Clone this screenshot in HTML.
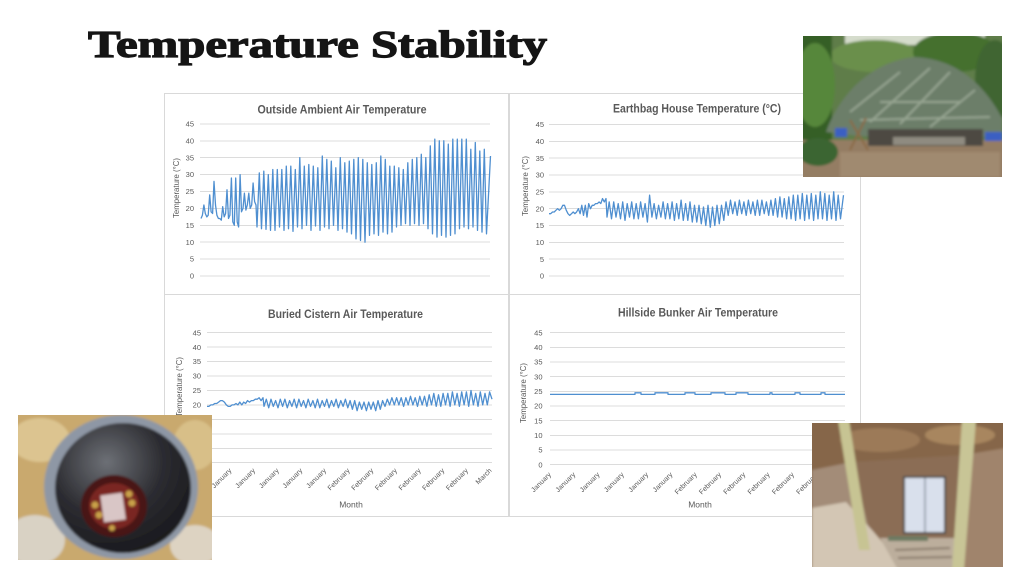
<!DOCTYPE html>
<html><head><meta charset="utf-8"><style>
html,body{margin:0;padding:0;background:#fff;}
svg{display:block;}
</style></head><body>
<svg xmlns="http://www.w3.org/2000/svg" width="1024" height="576" viewBox="0 0 1024 576">
<defs>
<filter id="bl" x="-5%" y="-5%" width="110%" height="110%"><feGaussianBlur stdDeviation="1.2"/></filter>
<clipPath id="c1"><rect x="803" y="36" width="199" height="141"/></clipPath>
<clipPath id="c2"><rect x="18" y="415" width="194" height="145"/></clipPath>
<clipPath id="c3"><rect x="812" y="423" width="191" height="144"/></clipPath>
<radialGradient id="rg" cx="0.38" cy="0.3" r="0.75"><stop offset="0" stop-color="#6d7076"/><stop offset="0.55" stop-color="#2c2c31"/><stop offset="1" stop-color="#18181c"/></radialGradient>
</defs>
<rect width="1024" height="576" fill="#fff"/>

<text x="88" y="57" font-family="'Liberation Serif',serif" font-weight="bold" font-size="38" textLength="459" lengthAdjust="spacingAndGlyphs" fill="#151515" stroke="#151515" stroke-width="1.2">Temperature Stability</text>

<g fill="none" stroke="#d9d9d9" stroke-width="1">
<rect x="164.5" y="93.5" width="344" height="201"/>
<rect x="509.5" y="93.5" width="351" height="201"/>
<rect x="164.5" y="294.5" width="344" height="222"/>
<rect x="509.5" y="294.5" width="351" height="222"/>
</g>

<g fill="none" stroke="#dcdcdc" stroke-width="1">
<path d="M200,124H490M200,141H490M200,157.5H490M200,174.5H490M200,191.5H490M200,208.5H490M200,225.5H490M200,242H490M200,259H490M200,276H490"/>
<path d="M549,124.5H844M549,141.5H844M549,158H844M549,175H844M549,192H844M549,208.5H844M549,225.5H844M549,242.5H844M549,259H844M549,276H844"/>
<path d="M207,332.5H492M207,347H492M207,361.5H492M207,376H492M207,390.5H492M207,405H492M207,419.5H492M207,434H492M207,448.5H492M207,462.5H492"/>
<path d="M550,332.5H845M550,347.5H845M550,362H845M550,376.5H845M550,391.5H845M550,406H845M550,420.5H845M550,435.5H845M550,450H845M550,464.5H845"/>
</g>

<g font-family="'Liberation Sans',sans-serif" fill="#595959">
<text x="342" y="113.5" text-anchor="middle" font-size="11.5" font-weight="bold" textLength="169" lengthAdjust="spacingAndGlyphs">Outside Ambient Air Temperature</text>
<text x="697" y="112.7" text-anchor="middle" font-size="11.5" font-weight="bold" textLength="168" lengthAdjust="spacingAndGlyphs">Earthbag House Temperature (°C)</text>
<text x="345.5" y="318" text-anchor="middle" font-size="11.5" font-weight="bold" textLength="155" lengthAdjust="spacingAndGlyphs">Buried Cistern Air Temperature</text>
<text x="698" y="316.7" text-anchor="middle" font-size="11.5" font-weight="bold" textLength="160" lengthAdjust="spacingAndGlyphs">Hillside Bunker Air Temperature</text>

<g font-size="7.5" text-anchor="end">
<text x="194" y="126.5">45</text><text x="194" y="143.4">40</text><text x="194" y="160.3">35</text><text x="194" y="177.2">30</text><text x="194" y="194.1">25</text><text x="194" y="211">20</text><text x="194" y="227.9">15</text><text x="194" y="244.8">10</text><text x="194" y="261.7">5</text><text x="194" y="278.6">0</text>
<text x="544" y="127.1">45</text><text x="544" y="143.9">40</text><text x="544" y="160.8">35</text><text x="544" y="177.6">30</text><text x="544" y="194.4">25</text><text x="544" y="211.3">20</text><text x="544" y="228.1">15</text><text x="544" y="244.9">10</text><text x="544" y="261.8">5</text><text x="544" y="278.6">0</text>
<text x="201" y="335.3">45</text><text x="201" y="349.8">40</text><text x="201" y="364.2">35</text><text x="201" y="378.7">30</text><text x="201" y="393.1">25</text><text x="201" y="407.5">20</text><text x="201" y="422">15</text><text x="201" y="436.4">10</text><text x="201" y="450.9">5</text><text x="201" y="465.3">0</text>
<text x="542.5" y="335.4">45</text><text x="542.5" y="350">40</text><text x="542.5" y="364.7">35</text><text x="542.5" y="379.4">30</text><text x="542.5" y="394.1">25</text><text x="542.5" y="408.7">20</text><text x="542.5" y="423.4">15</text><text x="542.5" y="438.1">10</text><text x="542.5" y="452.7">5</text><text x="542.5" y="467.4">0</text>
</g>

<g font-size="8" text-anchor="middle">
<text transform="translate(179,188) rotate(-90)" textLength="60" lengthAdjust="spacingAndGlyphs">Temperature (°C)</text>
<text transform="translate(528,186) rotate(-90)" textLength="60" lengthAdjust="spacingAndGlyphs">Temperature (°C)</text>
<text transform="translate(182,387) rotate(-90)" textLength="60" lengthAdjust="spacingAndGlyphs">Temperature (°C)</text>
<text transform="translate(526,393) rotate(-90)" textLength="60" lengthAdjust="spacingAndGlyphs">Temperature (°C)</text>
</g>

<g font-size="8.5" text-anchor="middle">
<text x="351" y="507.5">Month</text>
<text x="700" y="507.5">Month</text>
</g>

<g font-size="7" text-anchor="end">
<text transform="translate(208.3,471) rotate(-45)">January</text>
<text transform="translate(232,471) rotate(-45)">January</text>
<text transform="translate(255.6,471) rotate(-45)">January</text>
<text transform="translate(279.3,471) rotate(-45)">January</text>
<text transform="translate(302.9,471) rotate(-45)">January</text>
<text transform="translate(326.6,471) rotate(-45)">January</text>
<text transform="translate(350.2,471) rotate(-45)">February</text>
<text transform="translate(373.9,471) rotate(-45)">February</text>
<text transform="translate(397.5,471) rotate(-45)">February</text>
<text transform="translate(421.2,471) rotate(-45)">February</text>
<text transform="translate(444.8,471) rotate(-45)">February</text>
<text transform="translate(468.5,471) rotate(-45)">February</text>
<text transform="translate(492.1,471) rotate(-45)">March</text>

<text transform="translate(551.5,475) rotate(-45)">January</text>
<text transform="translate(575.8,475) rotate(-45)">January</text>
<text transform="translate(600.1,475) rotate(-45)">January</text>
<text transform="translate(624.4,475) rotate(-45)">January</text>
<text transform="translate(648.7,475) rotate(-45)">January</text>
<text transform="translate(673,475) rotate(-45)">January</text>
<text transform="translate(697.3,475) rotate(-45)">February</text>
<text transform="translate(721.6,475) rotate(-45)">February</text>
<text transform="translate(745.9,475) rotate(-45)">February</text>
<text transform="translate(770.2,475) rotate(-45)">February</text>
<text transform="translate(794.5,475) rotate(-45)">February</text>
<text transform="translate(818.8,475) rotate(-45)">February</text>
<text transform="translate(843.1,475) rotate(-45)">March</text>
</g>
</g>

<g fill="none" stroke="#4f8fd0" stroke-width="1.3" stroke-linejoin="round">
<!-- Outside ambient -->
<path d="M201,218.5 L202.4,215.2 203.9,205 205.3,213.5 206.8,216.9 208.2,215.2 209.7,194.9 211.1,211.8 212.6,213.5 214,181.4 215.5,205 216.9,215.2 218.4,218.5 219.8,218.5 221.3,220.2 222.7,206.7 224.2,216.9 225.6,213.5 227,189.8 228.5,218.5 229.9,215.2 231.4,178 232.8,221.9 234.3,225.3 235.7,178 237.2,221.9 238.6,227 240.1,174.6 241.5,211.8 243,208.4 244.4,193.2 245.9,210.1 247.3,205 248.8,193.2 250.2,208.4 251.7,205 253.1,183 254.6,201.6 256,205
257,227 259.3,172.9 261.5,228.7 263.8,171.2 266,229.4 268.3,174.6 270.5,230.4 272.8,169.5 275,230.4 277.3,169.5 279.5,227 281.8,169.5 284,230.4 286.3,166.2 288.5,228.7 290.8,166.2 293,231.4 295.3,169.5 297.5,227 299.8,157.7 302,228.7 304.3,166.2 306.5,225.3 308.8,164.5 311,230.4 313.3,166.2 315.5,226 317.8,167.8 320,230.4 322.3,156 324.5,227 326.8,159.4 329,228.7 331.3,161.1 333.5,225.3 335.8,167.8 338,230.4 340.3,157.7 342.5,228.7 344.8,162.8 347,232.1 349.3,161.1 351.5,233.8 353.8,159.4 356,238.8 358.3,157.7 360.5,240.5 362.8,159.4 365,242.2 367.3,162.8 369.5,235.4 371.8,164.5 374,233.8 376.3,162.8 378.5,235.4 380.8,156 383,232.1 385.3,159.4 387.5,233.8 389.8,166.2 392,232.1 394.3,166.2 396.5,227 398.8,167.8 401,225.3 403.3,169.5 405.5,223.6 407.8,162.8 410,225.3 412.3,159.4 414.5,223.6 416.8,157.7 419,225.3 421.3,154.3 423.5,223.6 425.8,157.7 428,228.7 430.3,145.9 432.5,233.8 434.8,139.1 437,237.1 439.3,140.8 441.5,235.4 443.8,140.8 446,237.1 448.3,144.2 450.5,235.4 452.8,139.1 455,233.8 457.3,139.1 459.5,228.7 461.8,139.1 464,227 466.3,139.1 468.5,228.7 470.8,149.3 473,227 475.3,142.5 477.5,230.4 479.8,151 482,232.1 484.3,149.3 486.5,233.8 490.5,156"/>
<!-- Earthbag -->
<path d="M549,213.7 L550.7,213.7 552.5,212 554.2,212 555.9,210.3 557.6,208.7 559.4,210.3 561.1,208.7 562.8,205.3 564.5,205.3 566.3,210.3 568,213.7 569.7,215.4 571.5,213.7 573.2,212 574.9,213.7 576.6,212 578.4,208.7 580.1,213.7 581.8,205.3 583.5,215.4 585.3,205.3 587,217.1 588.7,203.6 590.5,208.7 592.2,205.3 593.9,205.3 595.6,203.6 597.4,203.6 599.1,201.9 600.8,203.6 602.5,198.6 604.3,201.9 606,198.6
607,217.1 609.2,201.9 611.5,218.8 613.7,201.9 616,217.1 618.2,203.6 620.5,218.8 622.7,201.9 625,220.4 627.2,203.6 629.5,217.1 631.7,201.9 633.9,218.8 636.2,203.6 638.4,218.8 640.6,201.9 642.9,217.1 645.1,203.6 647.4,222.1 649.6,195.2 651.9,217.1 654.1,203.6 656.4,218.8 658.6,205.3 660.9,217.1 663.1,201.9 665.4,218.8 667.6,203.6 669.9,218.8 672.1,201.9 674.4,220.4 676.6,203.6 678.8,218.8 681.1,200.2 683.3,220.4 685.6,203.6 687.8,220.4 690,201.9 692.3,222.1 694.5,205.3 696.8,222.1 699,205.3 701.3,223.8 703.5,207 705.8,225.5 708,205.3 710.3,227.2 712.5,207 714.8,225.5 717,205.3 719.3,223.8 721.5,205.3 723.8,220.4 726,201.9 728.2,215.4 730.5,200.2 732.7,213.7 735,201.9 737.2,215.4 739.4,200.2 741.7,213.7 743.9,201.9 746.2,215.4 748.4,200.2 750.7,213.7 752.9,201.9 755.2,215.4 757.4,200.2 759.7,215.4 761.9,200.2 764.2,213.7 766.4,201.9 768.7,215.4 770.9,200.2 773.1,215.4 775.4,198.6 777.6,217.1 779.9,196.9 782.1,217.1 784.3,198.6 786.6,218.8 788.8,196.9 791.1,218.8 793.3,195.2 795.6,220.4 797.8,195.2 800.1,218.8 802.3,193.5 804.6,220.4 806.8,195.2 809.1,218.8 811.3,193.5 813.6,220.4 815.8,195.2 818,218.8 820.3,191.8 822.5,218.8 824.8,193.5 827,220.4 829.2,195.2 831.5,218.8 833.7,191.8 836,220.4 838.2,195.2 840.5,218.8 843.5,195.2"/>
<!-- Buried cistern -->
<path d="M207,406.4 L208.9,406.4 210.9,404.9 212.8,404.9 214.7,403.5 216.7,403.5 218.6,402.1 220.5,400.6 222.4,400.6 224.4,402.1 226.3,404.9 228.2,406.4 230.2,406.4 232.1,404.9 234,404.9 236,403.5 237.9,404.9 239.8,402.1 241.8,404.9 243.7,402.1 245.6,403.5 247.5,400.6 249.5,402.1 251.4,400.6 253.3,400.6 255.3,399.2 257.2,399.2 259.1,397.7 261.1,400.6 263,397.7
264,406.4 266.3,399.2 268.7,407.8 271,399.2 273.3,406.4 275.6,400.6 278,407.8 280.3,399.2 282.6,406.4 284.9,399.2 287.3,407.8 289.6,400.6 291.9,406.4 294.2,399.2 296.6,407.8 298.9,399.2 301.2,406.4 303.5,400.6 305.9,407.8 308.2,399.2 310.5,406.4 312.9,400.6 315.2,407.8 317.5,399.2 319.8,407.8 322.2,400.6 324.5,406.4 326.8,399.2 329.1,407.8 331.5,400.6 333.8,406.4 336.1,399.2 338.4,407.8 340.8,400.6 343.1,406.4 345.4,399.2 347.8,407.8 350.1,400.6 352.4,409.3 354.7,400.6 357.1,410.7 359.4,402.1 361.7,409.3 364,402.1 366.4,410.7 368.7,402.1 371,409.3 373.3,402.1 375.7,410.7 378,400.6 380.3,409.3 382.6,400.6 385,406.4 387.3,399.2 389.6,404.9 391.9,397.7 394.3,404.9 396.6,397.7 398.9,404.9 401.2,397.7 403.6,406.4 405.9,397.7 408.2,404.9 410.5,396.3 412.9,404.9 415.2,397.7 417.5,406.4 419.8,396.3 422.2,404.9 424.5,396.3 426.9,406.4 429.2,394.8 431.5,404.9 433.8,393.4 436.2,406.4 438.5,394.8 440.8,406.4 443.1,393.4 445.5,404.9 447.8,393.4 450.1,406.4 452.4,391.9 454.8,404.9 457.1,393.4 459.4,406.4 461.7,391.9 464.1,404.9 466.4,391.9 468.7,406.4 471,390.5 473.4,404.9 475.7,393.4 478,406.4 480.3,391.9 482.7,404.9 485,393.4 487.3,404.9 489.6,391.9 492,399.2"/>
<!-- Hillside bunker -->
<path d="M550,394.4 H635 V392.8 H641 V394.4 H655 V392.8 H668 V394.4 H685 V392.8 H695 V394.4 H711 V392.8 H725 V394.4 H736 V392.8 H748 V394.4 H770 V392.8 H772 V394.4 H795 V392.8 H800 V394.4 H821 V392.8 H825 V394.4 H845"/>
</g>

<!-- Photo 1: thatched earthbag house -->
<g clip-path="url(#c1)">
<g filter="url(#bl)">
<rect x="800" y="33" width="205" height="147" fill="#5f7d48"/>
<rect x="845" y="33" width="140" height="12" fill="#d5dccc"/>
<ellipse cx="875" cy="56" rx="45" ry="16" fill="#6a8f4c"/>
<ellipse cx="955" cy="52" rx="42" ry="20" fill="#44702f"/>
<ellipse cx="995" cy="80" rx="20" ry="40" fill="#3f6530"/>
<rect x="800" y="33" width="32" height="125" fill="#355f26"/>
<ellipse cx="815" cy="85" rx="20" ry="42" fill="#56873a"/>
<rect x="800" y="140" width="205" height="40" fill="#947d63"/>
<rect x="840" y="152" width="160" height="25" fill="#a08a70"/>
<ellipse cx="818" cy="152" rx="20" ry="14" fill="#3b6532"/>
<path d="M826,132 C838,98 868,62 915,57 C958,59 985,86 1002,118 L1002,134 C970,140 900,142 826,132 Z" fill="#6c7e69"/>
<path d="M850,112 L900,72 M870,122 L930,68 M900,124 L950,72 M930,127 L975,90 M880,102 L960,102 M860,120 L990,117" stroke="#98a693" stroke-width="2" fill="none"/>
<rect x="868" y="129" width="115" height="17" fill="#4d4a43"/>
<rect x="893" y="137" width="72" height="8" fill="#8f8b80"/>
<rect x="835" y="128" width="12" height="9" fill="#3b5fc2"/>
<rect x="985" y="132" width="17" height="9" fill="#3b5fc2"/>
<path d="M850,120 L868,150 M866,118 L850,150" stroke="#8b6a45" stroke-width="2"/>
</g>
</g>

<!-- Photo 2: buried cistern -->
<g clip-path="url(#c2)">
<g filter="url(#bl)">
<rect x="15" y="412" width="200" height="151" fill="#c9a96e"/>
<ellipse cx="40" cy="440" rx="30" ry="22" fill="#dcc490"/>
<ellipse cx="195" cy="445" rx="22" ry="25" fill="#d8bf88"/>
<ellipse cx="35" cy="540" rx="30" ry="25" fill="#d9d2c4"/>
<ellipse cx="195" cy="545" rx="25" ry="20" fill="#ddd3c2"/>
<ellipse cx="121" cy="487" rx="77" ry="72" fill="#8e97a5"/>
<ellipse cx="123" cy="488" rx="68" ry="65" fill="url(#rg)"/>
<ellipse cx="114" cy="506" rx="33" ry="31" fill="#4a1816"/>
<ellipse cx="114" cy="506" rx="25" ry="23" fill="#7a2620"/>
<rect x="102" y="494" width="22" height="27" fill="#d9c6c6" transform="rotate(-8 113 507)"/>
<circle cx="95" cy="505" r="3.5" fill="#c9a24a"/>
<circle cx="99" cy="515" r="3.5" fill="#c9a24a"/>
<circle cx="129" cy="494" r="3.5" fill="#c9a24a"/>
<circle cx="132" cy="503" r="3.5" fill="#c9a24a"/>
<circle cx="112" cy="528" r="3" fill="#c9a24a"/>
</g>
</g>

<!-- Photo 3: hillside bunker -->
<g clip-path="url(#c3)">
<g filter="url(#bl)">
<rect x="809" y="420" width="197" height="150" fill="#866649"/>
<ellipse cx="880" cy="440" rx="40" ry="12" fill="#9c7a58"/>
<ellipse cx="960" cy="435" rx="35" ry="10" fill="#a8865f"/>
<ellipse cx="985" cy="470" rx="20" ry="15" fill="#b39070"/>
<polygon points="812,470 852,462 872,540 812,522" fill="#a38c78"/>
<polygon points="963,455 1006,448 1006,570 958,570" fill="#a0846c"/>
<polygon points="852,462 963,455 958,540 872,540" fill="#8b6d55"/>
<rect x="904" y="477" width="41" height="56" fill="#d9e0ec" stroke="#4a4a4a" stroke-width="2"/>
<line x1="925" y1="478" x2="925" y2="532" stroke="#8890a0" stroke-width="1.5"/>
<polygon points="812,508 846,502 872,530 906,570 812,570" fill="#d3c6b4"/>
<polygon points="880,538 955,538 960,570 898,570" fill="#bcae9c"/>
<line x1="895" y1="550" x2="950" y2="548" stroke="#8a7c6c" stroke-width="2"/>
<line x1="898" y1="558" x2="952" y2="557" stroke="#8a7c6c" stroke-width="2"/>
<rect x="888" y="536" width="40" height="5" fill="#6d7a62"/>
<polygon points="838,420 849,420 870,550 859,550" fill="#c7c493"/>
<polygon points="962,420 976,420 964,570 952,570" fill="#c8c596"/>
</g>
</g>
</svg>
</body></html>
